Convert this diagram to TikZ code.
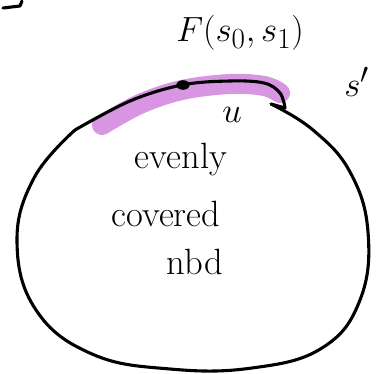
\documentclass[tikz,border=0pt]{standalone}
\usetikzlibrary{positioning,shapes.geometric}
\definecolor{hilite}{RGB}{216,150,226}
\tikzset{
    stroke/.style={draw,line width=2.2pt,line cap=round,line join=round}
}

\begin{document}
\begin{tikzpicture}[x=0.025cm,y=-0.025cm,
                    txt/.style={inner sep=0pt,font=\fontsize{26}{30}\selectfont},
                    bigtxt/.style={inner sep=0pt,font=\fontsize{28}{32}\selectfont}]
\useasboundingbox (0,0) rectangle (392,373);

% Highlight
\draw[hilite,line width=0.5cm,line cap=round]
    plot[smooth,tension=0.6] coordinates {(102,125) (140,104) (182,90) (230,84) (264,86) (280,93)};

% Neighbourhood
\draw[stroke] plot[smooth,tension=0.6] coordinates
    {(75,130) (130,101) (182,85) (230,81) (264,83) (280,93) (285,108)};
\draw[stroke] (285,108) -- (271,104);
\draw[stroke] plot[smooth,tension=0.7] coordinates
    {(271,104) (313,130) (350,172) (368,232) (360,300) (322,348) (252,368)
     (170,369) (92,354) (36,310) (17,242) (34,178) (75,130)};
\draw[stroke] (3,8) -- (20,6) -- (22,1);

% Point
\node[ellipse,fill,minimum width=0.33cm,minimum height=0.24cm,inner sep=0pt] (pt) at (183,85) {};

% Labels
\node[bigtxt] (fs) at (240,33) {$F(s_0,s_1)$};
\node[bigtxt,anchor=west,font=\fontsize{32}{36}\selectfont] (sp) at (344,82) {$s'$};
\node[bigtxt] (u) at (232,115) {$u$};
\node[txt] (evenly) at (181,160) {evenly};
\node[txt] (covered) at (166,214) {covered};
\node[txt] (nbd) at (195,262) {nbd};

\end{tikzpicture}
\end{document}
